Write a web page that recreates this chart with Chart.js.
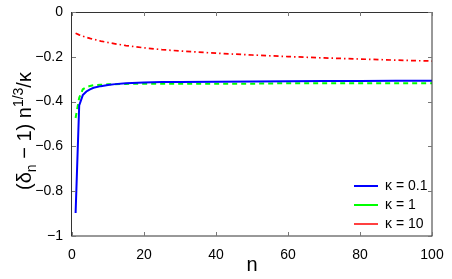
<!DOCTYPE html>
<html>
<head>
<meta charset="utf-8">
<script src="https://cdn.jsdelivr.net/npm/chart.js@4/dist/chart.umd.min.js"></script>
<style>
  body { margin: 0; background: #fff; }
  canvas { display: block; }
</style>
</head>
<body>
<canvas id="myChart" width="452" height="279"></canvas>
<script>
// values
let nValues = [1, 2, 3, 4, 5, 6, 8, 10, 12, 15, 20, 25, 30, 40, 50, 60, 70, 80, 90, 100];
let kappa01 = [-0.897, -0.417, -0.371, -0.355, -0.345, -0.338, -0.331, -0.326, -0.322, -0.318, -0.315, -0.313, -0.312, -0.311, -0.310, -0.309, -0.308, -0.308, -0.307, -0.307];
let kappa1 = [-0.473, -0.383, -0.345, -0.335, -0.330, -0.327, -0.325, -0.323, -0.322, -0.321, -0.320, -0.320, -0.320, -0.320, -0.320, -0.318, -0.318, -0.318, -0.318, -0.318];
let kappa10 = [-0.095, -0.102, -0.108, -0.113, -0.118, -0.122, -0.130, -0.136, -0.142, -0.150, -0.160, -0.168, -0.174, -0.184, -0.192, -0.199, -0.205, -0.210, -0.215, -0.219];
let seriesLabels = ["κ = 0.1", "κ = 1", "κ = 10"];
let xTicks = [0, 20, 40, 60, 80, 100];
let yTicks = [-1, -0.8, -0.6, -0.4, -0.2, 0];

Chart.defaults.font.family = "'Liberation Sans', Arial, sans-serif";
Chart.defaults.color = "#000";

function points(ys) {
  return nValues.map((n, i) => ({ x: n, y: ys[i] }));
}

function fmt(v) {
  let r = Math.round(v * 10) / 10;
  if (r == 0) return "0";
  return (r < 0 ? "\u2212" : "") + Math.abs(r);
}

// MATLAB style box, inward ticks and the y title with sub/superscript
const boxPlugin = {
  id: "boxPlugin",
  afterLayout(chart) {
    // put the legend inside the plot, bottom right
    let lg = chart.legend;
    lg.left = 349;
    lg.top = 174;
    lg.right = lg.left + lg.width;
    lg.bottom = 279;
  },
  afterDraw(chart) {
    const ctx = chart.ctx;
    const a = chart.chartArea;
    const xs = chart.scales.x, ys = chart.scales.y;
    ctx.save();
    ctx.strokeStyle = "#333";
    ctx.lineWidth = 1;
    ctx.strokeRect(a.left - 0.5, a.top + 0.5, a.right - a.left + 0.5, a.bottom - a.top - 0.5);
    ctx.beginPath();
    xTicks.forEach(v => {
      let px = Math.round(xs.getPixelForValue(v)) + 0.5;
      ctx.moveTo(px, a.bottom); ctx.lineTo(px, a.bottom - 4);
      ctx.moveTo(px, a.top); ctx.lineTo(px, a.top + 4);
    });
    yTicks.forEach(v => {
      let py = Math.round(ys.getPixelForValue(v)) + 0.5;
      ctx.moveTo(a.left, py); ctx.lineTo(a.left + 4, py);
      ctx.moveTo(a.right, py); ctx.lineTo(a.right - 4, py);
    });
    ctx.strokeStyle = "#777";
    ctx.stroke();

    // y title
    const big = "20px 'Liberation Sans', Arial, sans-serif";
    const small = "14px 'Liberation Sans', Arial, sans-serif";
    const parts = [
      ["(\u03b4", big, 0],
      ["n", small, 5],
      [" \u2212 1) n", big, 0],
      ["1/3", small, -8],
      ["/\u03ba", big, 0]
    ];
    let total = 0;
    parts.forEach(p => { ctx.font = p[1]; total += ctx.measureText(p[0]).width; });
    ctx.translate(31, 131);
    ctx.rotate(-Math.PI / 2);
    ctx.fillStyle = "#000";
    ctx.textBaseline = "alphabetic";
    ctx.textAlign = "left";
    let x = -total / 2;
    parts.forEach(p => {
      ctx.font = p[1];
      ctx.fillText(p[0], x, p[2]);
      x += ctx.measureText(p[0]).width;
    });
    ctx.restore();
  }
};

const data = {
  datasets: [
    {
      label: seriesLabels[0],
      data: points(kappa01),
      borderColor: "#0000ff",
      backgroundColor: "#0000ff",
      borderWidth: 2,
      pointRadius: 0,
    },
    {
      label: seriesLabels[1],
      data: points(kappa1),
      borderColor: "#00ff00",
      backgroundColor: "#00ff00",
      borderWidth: 2,
      borderDash: [5, 4],
      pointRadius: 0,
    },
    {
      label: seriesLabels[2],
      data: points(kappa10),
      borderColor: "#ff0000",
      backgroundColor: "#ff0000",
      borderWidth: 1.7,
      borderDash: [5, 3, 1.5, 3],
      pointRadius: 0,
    },
  ],
};

const config = {
  type: "line",
  data: data,
  options: {
    responsive: false,
    animation: false,
    layout: { padding: { left: 0, right: 20, top: 12, bottom: 0 } },
    scales: {
      x: {
        type: "linear",
        min: 0,
        max: 100,
        afterBuildTicks: s => { s.ticks = xTicks.map(v => ({ value: v })); },
        afterFit: s => { s.height = 43; },
        grid: { display: false },
        border: { display: false },
        ticks: { padding: 3, font: { size: 14 }, callback: v => String(v) },
        title: { display: true, text: "n", font: { size: 20 }, padding: { top: 0, bottom: 2 } },
      },
      y: {
        min: -1,
        max: 0,
        afterBuildTicks: s => { s.ticks = yTicks.map(v => ({ value: v })); },
        afterFit: s => { s.width = 72; },
        grid: { display: false },
        border: { display: false },
        ticks: { padding: 1, font: { size: 14 }, callback: v => fmt(v) },
      },
    },
    plugins: {
      tooltip: { enabled: false },
      legend: {
        position: "chartArea",
        align: "start",
        labels: {
          usePointStyle: true,
          pointStyle: "line",
          pointStyleWidth: 24,
          boxHeight: 14,
          padding: 5,
          font: { size: 14 },
          color: "#000",
        },
      },
    },
  },
  plugins: [boxPlugin],
};

const myChart = new Chart(document.getElementById("myChart"), config);
</script>
</body>
</html>
